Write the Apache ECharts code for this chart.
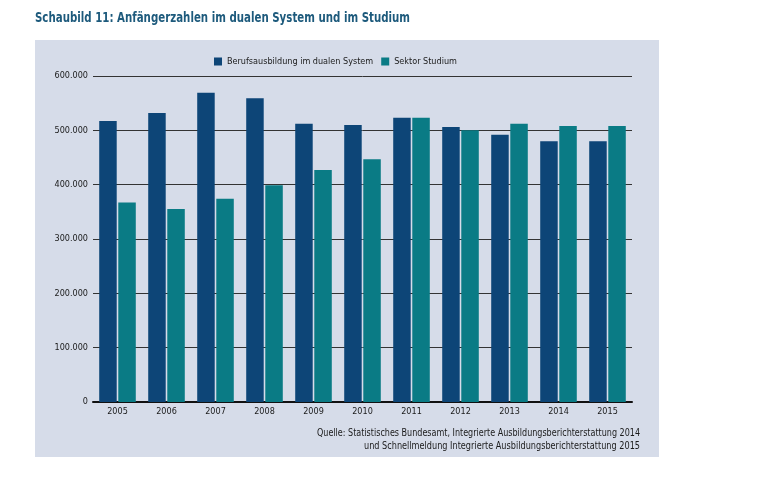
<!DOCTYPE html>
<html>
<head>
<meta charset="utf-8">
<script src="https://cdn.jsdelivr.net/npm/echarts@6/dist/echarts.min.js"></script>
<style>html,body{margin:0;padding:0;background:#fff}#c{width:759px;height:479px}</style>
</head>
<body>
<div id="c"></div>
<script>
const years = ['2005','2006','2007','2008','2009','2010','2011','2012','2013','2014','2015'];
const dualesSystem = [517000, 532000, 569000, 559000, 512000, 510000, 523000, 506000, 492000, 480000, 480000];
const studium = [367000, 355000, 374000, 399000, 427000, 447000, 523000, 500000, 512000, 508000, 508000];
const seriesNames = ['Berufsausbildung im dualen System', 'Sektor Studium'];
const yTicks = [0, 100000, 200000, 300000, 400000, 500000, 600000];
const titleText = 'Schaubild 11: Anfängerzahlen im dualen System und im Studium';
const sourceLines = [
  'Quelle: Statistisches Bundesamt, Integrierte Ausbildungsberichterstattung 2014',
  'und Schnellmeldung Integrierte Ausbildungsberichterstattung 2015'
];

const FONT = '"DejaVu Sans Condensed", "Liberation Sans Narrow", sans-serif';
const mctx = document.createElement('canvas').getContext('2d');
function fitScale(text, font, target) {
  mctx.font = font;
  const w = mctx.measureText(text).width;
  return w > 0 ? target / w : 1;
}
const titleFont = 'bold 14px ' + FONT;
const srcFont = '10.5px ' + FONT;

const chart = echarts.init(document.getElementById('c'), null, {renderer: 'canvas'});
chart.setOption({
  backgroundColor: '#ffffff',
  animation: false,
  graphic: [
    {type: 'rect', z: -10, silent: true, shape: {x: 35, y: 40, width: 624, height: 417}, style: {fill: '#d6dce9'}},
    {type: 'text', z: 10, x: 35, y: 18.5, scaleX: fitScale(titleText, titleFont, 375),
      style: {x: 0, y: 0, text: titleText, align: 'left', verticalAlign: 'middle', font: titleFont, fill: '#1d5a7c'}},
    {type: 'text', z: 10, x: 640, y: 433, scaleX: fitScale(sourceLines[0], srcFont, 323),
      style: {x: 0, y: 0, text: sourceLines[0], align: 'right', verticalAlign: 'middle', font: srcFont, fill: '#1a1a1a'}},
    {type: 'text', z: 10, x: 640, y: 446, scaleX: fitScale(sourceLines[1], srcFont, 276),
      style: {x: 0, y: 0, text: sourceLines[1], align: 'right', verticalAlign: 'middle', font: srcFont, fill: '#1a1a1a'}}
  ],
  legend: {
    left: 209, top: 52,
    itemWidth: 8, itemHeight: 8, itemGap: 8,
    icon: 'rect',
    textStyle: {fontFamily: FONT, fontSize: 9, color: '#1a1a1a'},
    data: seriesNames
  },
  grid: {left: 93, right: 127, top: 76, bottom: 77, containLabel: false},
  xAxis: {
    type: 'category', data: years,
    axisLine: {lineStyle: {color: '#111', width: 2}},
    axisTick: {show: false},
    axisLabel: {fontFamily: FONT, fontSize: 9, color: '#1a1a1a', margin: 5}
  },
  yAxis: {
    type: 'value', min: yTicks[0], max: yTicks[yTicks.length-1], interval: 100000,
    axisLine: {show: false}, axisTick: {show: false},
    splitLine: {lineStyle: {color: '#333333', width: 1}},
    axisLabel: {
      fontFamily: FONT, fontSize: 9, color: '#1a1a1a', margin: 5,
      formatter: v => v === 0 ? '0' : (v/1000).toFixed(0) + '.000'
    }
  },
  series: [
    {name: seriesNames[0], type: 'bar', data: dualesSystem, barWidth: 17.5, barGap: '9%', itemStyle: {color: '#0d4577'}},
    {name: seriesNames[1], type: 'bar', data: studium, barWidth: 17.5, itemStyle: {color: '#0a7b85'}}
  ]
});
</script>
</body>
</html>
